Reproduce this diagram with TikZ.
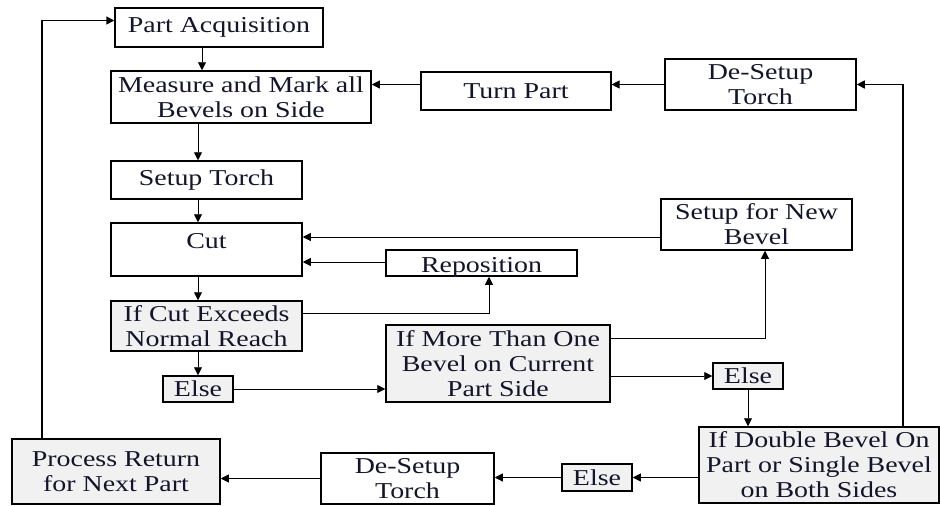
\documentclass[tikz,border=0pt]{standalone}
\usepackage{fontspec}
\setmainfont{Liberation Serif}[FakeStretch=1.23]
\usetikzlibrary{arrows.meta}
\definecolor{boxgray}{HTML}{F1F1F1}
\definecolor{ink}{HTML}{14142A}
\begin{document}
\begin{tikzpicture}[x=1pt,y=-1pt,
  box/.style={draw, line width=1.5pt, inner sep=0pt, align=center, text=ink,
    font=\fontsize{22.7}{25}\selectfont},
  gbox/.style={box, fill=boxgray},
  arr/.style={-{Triangle[length=8pt,width=8pt]}, line width=0.9pt},
  longline/.style={arr, line width=1.6pt},
]
\useasboundingbox[fill=white] (0,0) rectangle (940,506);

\node[box, minimum width=208pt, minimum height=39pt] (pa) at (219,27.5) {Part Acquisition};
\node[box, minimum width=260pt, minimum height=52pt] (measure) at (241,97) {Measure and Mark all\\Bevels on Side};
\node[box, line width=1.1pt, minimum width=190pt, minimum height=38pt] (turn) at (516,91) {Turn Part};
\node[box, minimum width=191pt, minimum height=51pt] (desetup) at (760.5,84.5) {De-Setup\\Torch};
\node[box, minimum width=191pt, minimum height=38pt] (setup) at (206.5,180) {Setup Torch};
\node[box, minimum width=191pt, minimum height=53pt, text depth=17.5pt] (cut) at (206.5,249.5) {Cut};
\node[box, minimum width=191pt, minimum height=26pt, text height=19pt, text depth=0pt] (repo) at (481.5,263) {Reposition};
\node[box, minimum width=191pt, minimum height=51pt] (setupnew) at (756.5,224.5) {Setup for New\\Bevel};
\node[gbox, minimum width=191pt, minimum height=50pt] (ifcut) at (206.5,326) {If Cut Exceeds\\Normal Reach};
\node[gbox, minimum width=224pt, minimum height=77pt] (ifmore) at (498,363.5) {If More Than One\\Bevel on Current\\Part Side};
\node[gbox, minimum width=70pt, minimum height=26pt] (else1) at (198,389) {Else};
\node[gbox, minimum width=70pt, minimum height=26pt] (else2) at (748,376) {Else};
\node[gbox, minimum width=240pt, minimum height=76pt] (ifdouble) at (819,465) {If Double Bevel On\\Part or Single Bevel\\on Both Sides};
\node[gbox, minimum width=70pt, minimum height=27pt] (else3) at (597,477.5) {Else};
\node[box, minimum width=173pt, minimum height=51pt] (desetup2) at (407.5,478.5) {De-Setup\\Torch};
\node[gbox, minimum width=208pt, minimum height=65pt] (procret) at (116,471.5) {Process Return\\for Next Part};

% main column
\draw[arr] (pa.south -| 202,0) -- (measure.north -| 202,0);
\draw[arr] (measure.south -| 198,0) -- (setup.north -| 198,0);
\draw[arr] (setup.south -| 198,0) -- (cut.north -| 198,0);
\draw[arr] (cut.south -| 198,0) -- (ifcut.north -| 198,0);
\draw[arr] (ifcut.south -| else1.north) -- (else1.north);
\draw[arr] (else1.east) -- (ifmore.west |- else1.east);

% top row
\draw[arr] (desetup.west) -- (turn.east |- desetup.west);
\draw[arr] (turn.west |- desetup.west) -- (measure.east |- desetup.west);

% loops into Cut
\draw[arr] (setupnew.west |- 0,237) -- (cut.east |- 0,237);
\draw[arr] (repo.west |- 0,262) -- (cut.east |- 0,262);
\draw[arr] (ifcut.east |- 0,313) -| (repo.south -| 489,0);
\draw[arr] (ifmore.east |- 0,338) -| (setupnew.south -| 765,0);

% decisions
\draw[arr] (ifmore.east |- else2.west) -- (else2.west);
\draw[arr] (else2.south) -- (ifdouble.north -| else2.south);
\draw[arr] (ifdouble.west |- else3.east) -- (else3.east);
\draw[arr] (else3.west) -- (desetup2.east |- else3.west);
\draw[arr] (desetup2.west) -- (procret.east |- desetup2.west);

% long return lines
\draw[longline] (ifdouble.north -| 903,0) |- (desetup.east);
\draw[longline] (procret.north -| 42,0) |- (pa.west |- 0,20.5);
\end{tikzpicture}
\end{document}
